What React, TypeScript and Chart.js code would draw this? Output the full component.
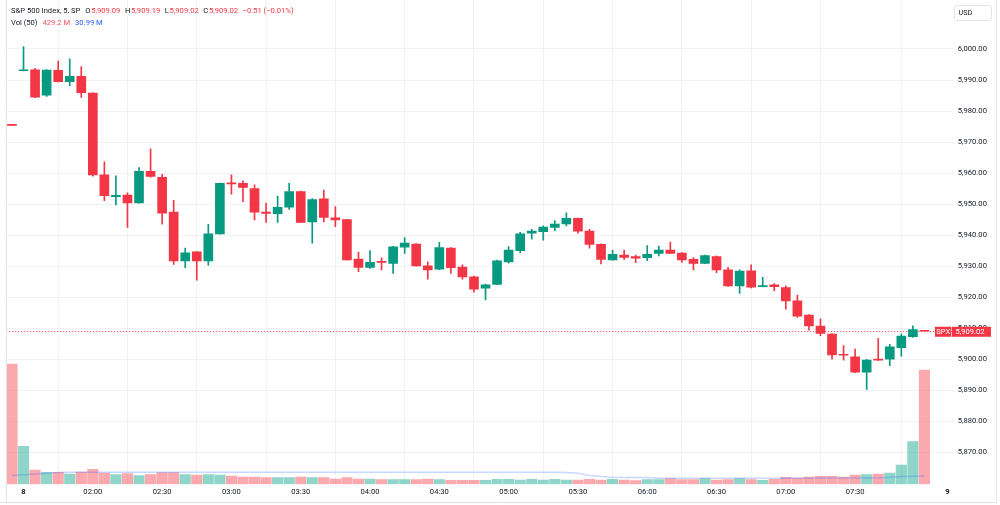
import React, { useEffect, useRef } from "react";
import { Chart, registerables } from "chart.js";
Chart.register(...registerables);

// ---- data ----
const timeLabels = ["8", "02:00", "02:30", "03:00", "03:30", "04:00", "04:30", "05:00", "05:30", "06:00", "06:30", "07:00", "07:30", "9"];
const timeLabelIndex = [1, 7, 13, 19, 25, 31, 37, 43, 49, 55, 61, 67, 73, 81];
const priceTicks = [5870, 5880, 5890, 5900, 5910, 5920, 5930, 5940, 5950, 5960, 5970, 5980, 5990, 6000];

const opens = [
  5975.6, 5993.0, 5993.3, 5985.1, 5993.1, 5989.5, 5991.2, 5985.8, 5959.4, 5952.4,
  5952.9, 5950.4, 5960.6, 5958.6, 5947.4, 5931.7, 5934.6, 5931.7, 5940.4, 5956.8,
  5956.7, 5955.0, 5947.4, 5946.9, 5949.0, 5954.0, 5944.3, 5951.7, 5945.6, 5945.0,
  5932.3, 5929.6, 5931.5, 5930.9, 5936.1, 5937.1, 5930.1, 5929.0, 5935.8, 5929.7,
  5926.6, 5922.9, 5924.1, 5931.4, 5935.0, 5940.6, 5941.1, 5942.5, 5943.6, 5945.4,
  5941.3, 5937.0, 5932.0, 5933.6, 5933.1, 5932.7, 5934.1, 5935.2, 5934.2, 5932.2,
  5930.9, 5933.1, 5928.8, 5923.6, 5928.5, 5923.4, 5924.0, 5923.1, 5918.8, 5914.2,
  5910.7, 5908.1, 5901.6, 5900.8, 5895.8, 5899.9, 5900.0, 5903.7, 5907.3, 5909.09,
];
const highs = [
  5975.7, 6000.8, 5993.8, 5993.4, 5996.1, 5996.8, 5994.3, 5985.9, 5963.6, 5959.1,
  5953.6, 5961.8, 5967.8, 5959.6, 5951.2, 5935.8, 5934.7, 5943.5, 5956.8, 5959.4,
  5957.5, 5956.2, 5950.3, 5952.6, 5956.7, 5954.2, 5951.8, 5954.5, 5949.2, 5945.1,
  5934.5, 5935.0, 5932.7, 5936.4, 5939.2, 5937.3, 5931.4, 5937.7, 5936.0, 5930.4,
  5926.8, 5924.2, 5932.0, 5936.3, 5940.9, 5941.9, 5943.0, 5944.7, 5947.2, 5945.5,
  5941.9, 5937.2, 5935.2, 5935.2, 5933.6, 5936.6, 5936.5, 5937.8, 5934.4, 5932.8,
  5933.6, 5933.3, 5929.6, 5928.8, 5930.4, 5926.4, 5924.4, 5923.7, 5920.7, 5914.4,
  5913.0, 5908.3, 5904.4, 5903.3, 5900.0, 5906.7, 5904.8, 5908.2, 5910.8, 5909.19,
];
const lows = [
  5975.3, 5992.9, 5984.3, 5984.7, 5989.4, 5988.2, 5984.4, 5959.0, 5951.1, 5949.7,
  5942.5, 5950.3, 5958.7, 5943.5, 5930.6, 5929.5, 5925.5, 5930.3, 5940.3, 5953.2,
  5950.8, 5944.9, 5944.1, 5944.1, 5948.3, 5944.0, 5937.4, 5944.3, 5942.7, 5931.9,
  5928.2, 5929.3, 5928.8, 5927.7, 5934.1, 5930.0, 5925.8, 5928.9, 5927.7, 5925.8,
  5921.6, 5919.1, 5924.0, 5931.0, 5934.3, 5938.7, 5938.4, 5941.4, 5943.0, 5940.6,
  5935.8, 5930.7, 5931.9, 5932.2, 5931.1, 5931.8, 5933.3, 5934.0, 5931.2, 5928.8,
  5930.8, 5927.9, 5923.5, 5921.2, 5923.0, 5923.3, 5922.1, 5916.1, 5913.5, 5909.4,
  5907.6, 5900.0, 5899.7, 5895.7, 5890.3, 5899.6, 5897.9, 5901.0, 5907.0, 5909.02,
];
const closes = [
  5975.4, 5993.3, 5984.5, 5993.2, 5989.5, 5991.2, 5985.9, 5959.4, 5952.7, 5952.8,
  5950.4, 5960.6, 5958.9, 5947.1, 5931.7, 5934.3, 5931.7, 5940.4, 5956.7, 5956.5,
  5955.4, 5947.4, 5947.0, 5949.0, 5954.0, 5944.1, 5951.5, 5945.7, 5944.9, 5932.0,
  5929.6, 5931.2, 5931.2, 5936.2, 5937.4, 5930.1, 5928.8, 5936.0, 5929.5, 5926.5,
  5922.6, 5924.0, 5931.7, 5935.2, 5940.4, 5941.3, 5942.6, 5943.6, 5945.4, 5941.3,
  5937.0, 5932.2, 5933.8, 5932.8, 5932.6, 5933.8, 5935.2, 5934.1, 5932.0, 5930.9,
  5933.4, 5928.8, 5923.6, 5928.4, 5923.2, 5923.7, 5923.4, 5918.8, 5913.9, 5910.7,
  5908.3, 5901.4, 5901.3, 5895.8, 5899.7, 5899.7, 5904.0, 5907.5, 5909.53, 5909.02,
];
// volume in millions
const volumes = [
  451.7, 142.7, 53.7, 45.1, 45.1, 38.7, 46.2, 56.3, 42.4, 36.4,
  40.2, 32.7, 36.4, 43.9, 43.9, 36.4, 34.9, 36.4, 34.9, 31.2,
  27.4, 27.4, 25.2, 25.2, 25.2, 27.4, 25.2, 25.2, 19.9, 25.2,
  19.9, 19.9, 17.6, 17.6, 17.6, 17.6, 19.9, 17.6, 15.0, 15.0,
  15.0, 15.0, 18.8, 18.8, 16.1, 18.8, 16.1, 18.8, 16.1, 16.1,
  18.8, 16.1, 18.8, 16.1, 13.9, 17.6, 17.6, 21.4, 17.6, 17.6,
  21.4, 16.1, 17.6, 21.4, 17.6, 15.0, 18.8, 26.3, 23.7, 27.4,
  30.0, 30.0, 27.4, 34.9, 36.4, 38.7, 42.4, 72.5, 160.3, 429.2,
];
const volumeMA = [
  32.7, 35.7, 38.7, 41.3, 43.9, 45.1, 45.1, 45.1, 45.1, 45.1,
  45.1, 45.1, 45.1, 45.1, 45.1, 45.1, 45.1, 45.1, 45.1, 45.1,
  45.1, 45.1, 45.1, 45.1, 45.1, 45.1, 45.1, 45.1, 45.1, 45.1,
  45.1, 45.1, 45.1, 45.1, 45.1, 45.1, 45.1, 45.1, 45.1, 45.1,
  45.1, 45.1, 45.1, 45.1, 45.1, 45.1, 45.1, 45.1, 44.0, 41.3,
  32.7, 28.9, 26.3, 25.2, 25.2, 25.2, 22.5, 22.5, 22.5, 22.5,
  22.5, 22.5, 22.5, 22.5, 22.5, 22.5, 22.5, 22.5, 22.5, 22.5,
  22.5, 23.7, 23.7, 23.7, 23.7, 23.7, 26.3, 28.9, 30.0, 30.99,
];

const symbolTitle = "S&P 500 Index, 5, SP";
const tickerTag = "SPX";
const currencyTag = "USD";

// ---- styles ----
const UP = "#089981";
const DOWN = "#F23645";
const UP_VOL = "rgba(34,171,148,0.5)";
const DOWN_VOL = "rgba(247,82,95,0.5)";
const TEXT = "#131722";
const GRID = "rgba(42,46,57,0.06)";
const FONT = "Roboto";

const fmt = (v: number) =>
  v.toLocaleString("en-US", { minimumFractionDigits: 2, maximumFractionDigits: 2 });

export default function App() {
  const ref = useRef<HTMLCanvasElement>(null);

  useEffect(() => {
    document.body.style.margin = "0";
    const n = opens.length;
    const isUp = opens.map((o, i) => closes[i] >= o);
    const last = n - 1;
    const lastClose = closes[last];
    const change = lastClose - closes[last - 1];
    const changePct = (change / closes[last - 1]) * 100;

    const overlay = {
      id: "overlay",
      beforeDatasetsDraw(chart: any) {
        const { ctx, chartArea: a, scales } = chart;
        const y = Math.round(scales.y.getPixelForValue(lastClose)) + 0.5;
        ctx.save();
        ctx.strokeStyle = DOWN;
        ctx.lineWidth = 1;
        ctx.setLineDash([1, 2]);
        ctx.beginPath();
        ctx.moveTo(a.left, y);
        ctx.lineTo(a.right, y);
        ctx.stroke();
        ctx.restore();
      },
      afterDraw(chart: any) {
        const { ctx, scales } = chart;
        ctx.save();
        // frame
        ctx.strokeStyle = "#e0e3eb";
        ctx.lineWidth = 1;
        ctx.beginPath();
        ctx.moveTo(6.5, 0);
        ctx.lineTo(6.5, 502);
        ctx.moveTo(996.5, 0);
        ctx.lineTo(996.5, 502.5);
        ctx.lineTo(0, 502.5);
        ctx.stroke();

        // legend
        ctx.textBaseline = "middle";
        ctx.textAlign = "left";
        ctx.font = `7.6px ${FONT}`;
        const drawRow = (y: number, parts: [string, string, number][]) => {
          let x = 11;
          for (const [t, c, gap] of parts) {
            ctx.fillStyle = c;
            ctx.fillText(t, x, y);
            x += ctx.measureText(t).width + gap;
          }
        };
        const sign = change < 0 ? "\u2212" : "+";
        drawRow(11.3, [
          [symbolTitle, TEXT, 5],
          ["O", TEXT, 0.8],
          [fmt(opens[last]), DOWN, 4.5],
          ["H", TEXT, 0.8],
          [fmt(highs[last]), DOWN, 4.5],
          ["L", TEXT, 0.8],
          [fmt(lows[last]), DOWN, 4.5],
          ["C", TEXT, 0.8],
          [fmt(lastClose), DOWN, 4.5],
          [`${sign}${Math.abs(change).toFixed(2)} (${sign}${Math.abs(changePct).toFixed(2)}%)`, DOWN, 0],
        ]);
        drawRow(23.3, [
          ["Vol (50)", TEXT, 5],
          [`${volumes[last].toFixed(1)} M`, "#F7525F", 5],
          [`${volumeMA[last].toFixed(2)} M`, "#2962FF", 0],
        ]);

        // USD box
        ctx.strokeStyle = "#e0e3eb";
        ctx.beginPath();
        ctx.roundRect(954.5, 5.5, 37, 15, 2.5);
        ctx.stroke();
        ctx.fillStyle = TEXT;
        ctx.font = `7.3px ${FONT}`;
        ctx.fillText(currencyTag, 958.5, 13.3);

        // last price labels
        const py = scales.y.getPixelForValue(lastClose);
        ctx.fillStyle = DOWN;
        ctx.fillRect(935, py - 4.5, 16.3, 10);
        ctx.fillRect(952, py - 4.5, 39, 10);
        ctx.fillStyle = "#ffffff";
        ctx.font = `7.6px ${FONT}`;
        ctx.textAlign = "center";
        ctx.fillText(tickerTag, 943.2, py + 0.7);
        ctx.textAlign = "left";
        ctx.fillText(fmt(lastClose), 955.5, py + 0.7);
        ctx.restore();
      },
    };

    const chart = new Chart(ref.current!, {
      type: "bar",
      data: {
        datasets: [
          {
            type: "bar",
            label: "bodies",
            data: opens.map((o, i) => ({ x: i, y: [o, closes[i]] })) as any,
            backgroundColor: isUp.map((u) => (u ? UP : DOWN)),
            barThickness: 9,
            minBarLength: 1,
            grouped: false,
            yAxisID: "y",
            order: 0,
          },
          {
            type: "bar",
            label: "wicks",
            data: lows.map((l, i) => ({ x: i, y: [l, highs[i]] })) as any,
            backgroundColor: isUp.map((u) => (u ? UP : DOWN)),
            barThickness: 1,
            grouped: false,
            yAxisID: "y",
            order: 1,
          },
          {
            type: "line",
            label: "volMA",
            data: volumeMA.map((v, i) => ({ x: i, y: v })),
            borderColor: "rgba(41,98,255,0.25)",
            borderWidth: 1.5,
            pointRadius: 0,
            yAxisID: "v",
            order: 2,
          },
          {
            type: "bar",
            label: "volume",
            data: volumes.map((v, i) => ({ x: i, y: v })),
            backgroundColor: isUp.map((u) => (u ? UP_VOL : DOWN_VOL)),
            barThickness: 10.5,
            grouped: false,
            yAxisID: "v",
            order: 3,
          },
        ] as any,
      },
      options: {
        responsive: false,
        animation: false,
        layout: { padding: { left: 6.2, right: 0, top: 0, bottom: 0 } },
        plugins: { legend: { display: false }, tooltip: { enabled: false } },
        scales: {
          x: {
            type: "linear",
            min: -0.5,
            max: 81.5,
            offset: false,
            border: { display: false },
            grid: { color: GRID, drawTicks: false },
            afterBuildTicks: (s: any) => {
              s.ticks = timeLabelIndex.map((v) => ({ value: v }));
            },
            afterFit: (s: any) => {
              s.height = 20.7;
              s.paddingLeft = 0;
              s.paddingRight = 0;
            },
            ticks: {
              autoSkip: false,
              maxRotation: 0,
              padding: 3,
              color: TEXT,
              font: (c: any) => ({
                family: FONT,
                size: 7.6,
                weight: c.tick && (c.tick.value === 1 || c.tick.value === 81) ? "bold" : "normal",
              }),
              callback: (v: any) => {
                const k = timeLabelIndex.indexOf(Number(v));
                return k >= 0 ? timeLabels[k] : "";
              },
            },
          },
          y: {
            position: "right",
            min: 5859.69,
            max: 6015.79,
            border: { display: false },
            grid: { color: GRID, drawTicks: false },
            afterBuildTicks: (s: any) => {
              s.ticks = priceTicks.map((v) => ({ value: v }));
            },
            afterFit: (s: any) => {
              s.width = 46.7;
              s.paddingTop = 0;
              s.paddingBottom = 0;
            },
            ticks: {
              padding: 4.5,
              color: TEXT,
              font: { family: FONT, size: 7.6 },
              callback: (v: any) => fmt(Number(v)),
            },
          },
          v: {
            display: false,
            min: 0,
            max: 1818.6,
          },
        },
      },
      plugins: [overlay],
    } as any);
    return () => chart.destroy();
  }, []);

  return (
    <div style={{ width: 1000, height: 505, position: "relative", background: "#fff" }}>
      <canvas ref={ref} width={1000} height={505} style={{ width: 1000, height: 505, display: "block" }} />
    </div>
  );
}
